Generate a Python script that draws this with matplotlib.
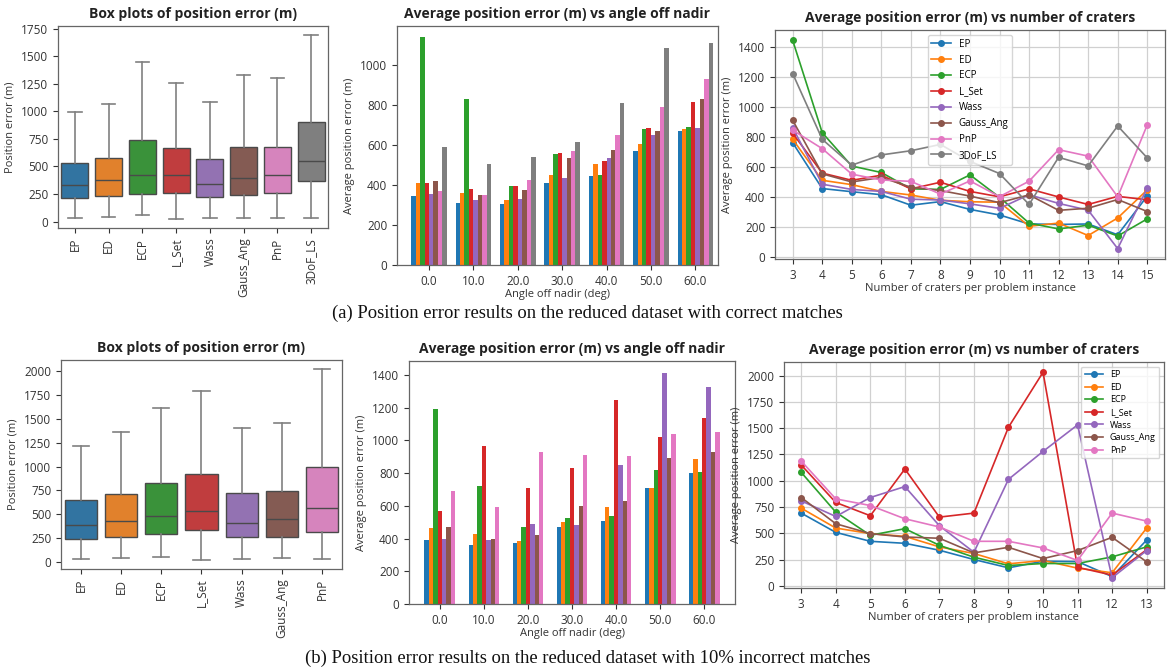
import matplotlib
matplotlib.use("Agg")
import numpy as np
import seaborn as sns
from matplotlib import pyplot as plt
from matplotlib.ticker import MultipleLocator

plt.rcParams['font.family'] = ['Open Sans', 'DejaVu Sans']

methods = ['EP', 'ED', 'ECP', 'L_Set', 'Wass', 'Gauss_Ang', 'PnP', '3DoF_LS']
angles = ['0.0', '10.0', '20.0', '30.0', '40.0', '50.0', '60.0']
craters_a = [3, 4, 5, 6, 7, 8, 9, 10, 11, 12, 13, 14, 15]
craters_b = [3, 4, 5, 6, 7, 8, 9, 10, 11, 12, 13]

# box plot stats: whisker low, q1, median, q3, whisker high
box_a = {
    'EP': [35, 215, 330, 530, 990],
    'ED': [40, 235, 375, 580, 1070],
    'ECP': [60, 250, 425, 740, 1445],
    'L_Set': [25, 255, 425, 665, 1255],
    'Wass': [35, 225, 345, 570, 1085],
    'Gauss_Ang': [30, 240, 395, 680, 1330],
    'PnP': [35, 260, 420, 680, 1300],
    '3DoF_LS': [30, 365, 545, 900, 1690],
}
box_b = {
    'EP': [35, 240, 390, 645, 1215],
    'ED': [45, 265, 430, 710, 1365],
    'ECP': [55, 295, 485, 830, 1620],
    'L_Set': [25, 330, 535, 920, 1790],
    'Wass': [30, 260, 410, 725, 1410],
    'Gauss_Ang': [40, 265, 455, 745, 1460],
    'PnP': [35, 315, 570, 1000, 2020],
}

# average error per angle off nadir
bars_a = {
    'EP': [343, 308, 305, 412, 448, 572, 670],
    'ED': [410, 358, 325, 450, 507, 605, 680],
    'ECP': [1140, 832, 398, 555, 452, 683, 692],
    'L_Set': [412, 380, 398, 563, 520, 685, 818],
    'Wass': [355, 327, 332, 435, 538, 650, 685],
    'Gauss_Ang': [422, 350, 373, 535, 575, 670, 832],
    'PnP': [370, 352, 428, 572, 652, 790, 930],
    '3DoF_LS': [590, 507, 543, 618, 812, 1088, 1113],
}
bars_b = {
    'EP': [390, 360, 370, 469, 508, 707, 803],
    'ED': [463, 425, 384, 500, 591, 707, 884],
    'ECP': [1193, 723, 471, 528, 536, 821, 809],
    'L_Set': [567, 965, 709, 833, 1248, 1020, 1138],
    'Wass': [398, 390, 492, 486, 849, 1414, 1325],
    'Gauss_Ang': [469, 396, 421, 597, 630, 894, 929],
    'PnP': [689, 591, 927, 912, 902, 1036, 1053],
}

# average error per number of craters
lines_a = {
    'EP': [759, 454, 433, 413, 343, 367, 315, 278, 218, 215, 218, 146, 404],
    'ED': [782, 509, 480, 435, 411, 376, 366, 363, 203, 224, 141, 258, 445],
    'ECP': [1441, 826, 604, 561, 452, 448, 545, 396, 224, 185, 210, 138, 252],
    'L_Set': [822, 557, 509, 543, 452, 496, 435, 399, 452, 398, 348, 402, 379],
    'Wass': [859, 483, 448, 435, 383, 378, 352, 322, 413, 355, 310, 54, 457],
    'Gauss_Ang': [909, 552, 498, 528, 463, 441, 404, 360, 412, 309, 323, 381, 301],
    'PnP': [843, 720, 550, 511, 502, 417, 505, 400, 503, 713, 670, 399, 878],
    '3DoF_LS': [1220, 782, 610, 678, 706, 748, 635, 554, 348, 662, 605, 871, 658],
}
lines_b = {
    'EP': [693, 510, 425, 406, 340, 252, 173, 236, 232, 90, 437],
    'ED': [740, 551, 498, 472, 372, 309, 211, 243, 170, 126, 551],
    'ECP': [1080, 702, 482, 545, 387, 274, 195, 214, 214, 277, 372],
    'L_Set': [1150, 794, 668, 1112, 655, 693, 1509, 2031, 178, 104, 345],
    'Wass': [809, 661, 841, 945, 573, 321, 1014, 1279, 1531, 79, 337],
    'Gauss_Ang': [841, 592, 498, 466, 454, 315, 368, 261, 337, 463, 230],
    'PnP': [1187, 828, 765, 639, 561, 425, 425, 362, 243, 693, 617],
}

tab = sns.color_palette('tab10')
soft = [sns.desaturate(c, 0.75) for c in tab]

edge = '#666666'
plt.rcParams['axes.edgecolor'] = edge
plt.rcParams['axes.linewidth'] = 0.9
plt.rcParams['xtick.color'] = '#333333'
plt.rcParams['ytick.color'] = '#333333'
plt.rcParams['xtick.labelsize'] = 8.5
plt.rcParams['ytick.labelsize'] = 8.5
plt.rcParams['axes.labelsize'] = 8
plt.rcParams['axes.labelcolor'] = '#333333'

fig = plt.figure(figsize=(11.68, 6.71), dpi=100)
fig.patch.set_facecolor('white')

title_kw = dict(fontweight='bold', size=10, color='#222222')


def box_panel(rect, stats):
    ax = fig.add_axes(rect)
    names = list(stats.keys())
    data = []
    for n in names:
        lo, q1, med, q3, hi = stats[n]
        data.append(dict(whislo=lo, q1=q1, med=med, q3=q3, whishi=hi, label=n))
    b = ax.bxp(data, positions=range(len(names)), widths=0.8, showfliers=False,
               patch_artist=True,
               boxprops=dict(edgecolor='#4a4a4a', linewidth=1.0),
               whiskerprops=dict(color='#808080', linewidth=1.2),
               capprops=dict(color='#808080', linewidth=1.2),
               medianprops=dict(color='#4a4a4a', linewidth=1.0))
    for i, p in enumerate(b['boxes']):
        p.set_facecolor(soft[i])
    ax.set_xlim(-0.5, len(names) - 0.5)
    ax.set_xticks(range(len(names)))
    ax.set_xticklabels(names, rotation=90)
    ax.yaxis.set_major_locator(MultipleLocator(250))
    ax.set_ylabel('Position error (m)')
    ax.set_title('Box plots of position error (m)', **title_kw)
    return ax


def bar_panel(rect, vals, xlim):
    ax = fig.add_axes(rect)
    names = list(vals.keys())
    n = len(names)
    x = np.arange(len(angles))
    w = 0.1
    for i, m in enumerate(names):
        ax.bar(x - n * w / 2 + w / 2 + i * w, vals[m], width=w, color=tab[i])
    ax.set_xticks(x)
    ax.set_xticklabels(angles)
    ax.set_xlim(*xlim)
    ax.set_xlabel('Angle off nadir (deg)', labelpad=1)
    ax.set_ylabel('Average position error (m)')
    ax.set_title('Average position error (m) vs angle off nadir', **title_kw)
    return ax


def line_panel(rect, xs, vals, loc, fs, spacing):
    ax = fig.add_axes(rect)
    for i, m in enumerate(vals):
        ax.plot(xs, vals[m], marker='o', markersize=4, linewidth=1.2, color=tab[i], label=m)
    ax.set_xticks(xs)
    ax.grid(True, color='#d0d0d0', linewidth=0.9)
    ax.set_axisbelow(True)
    ax.set_xlabel('Number of craters per problem instance', labelpad=1)
    ax.set_ylabel('Average position error (m)')
    ax.set_title('Average position error (m) vs number of craters', **title_kw)
    ax.legend(loc=loc, fontsize=fs, labelspacing=spacing, framealpha=0.8)
    return ax


# (a) correct matches
box_panel([0.0497, 0.6602, 0.2312, 0.3010], box_a)
bar_panel([0.3399, 0.6051, 0.2748, 0.3562], bars_a, (-0.72, 6.51))
line_panel([0.6635, 0.6140, 0.3339, 0.3413], craters_a, lines_a, 'upper center', 7, 0.5)

# (b) 10% incorrect matches
box_panel([0.0522, 0.1520, 0.2406, 0.3115], box_b)
bar_panel([0.3502, 0.0998, 0.2791, 0.3621], bars_b, (-0.7, 6.7))
line_panel([0.6712, 0.1237, 0.3253, 0.3368], craters_b, lines_b, 'upper right', 6.5, 0.4)

cap_kw = dict(ha='center', va='center', family='Liberation Serif', size=13.4, color='#111111')
fig.text(0.503, 1 - 313 / 671, '(a) Position error results on the reduced dataset with correct matches', **cap_kw)
fig.text(0.503, 1 - 658 / 671, '(b) Position error results on the reduced dataset with 10% incorrect matches', **cap_kw)

fig.savefig('out.png', dpi=100)
